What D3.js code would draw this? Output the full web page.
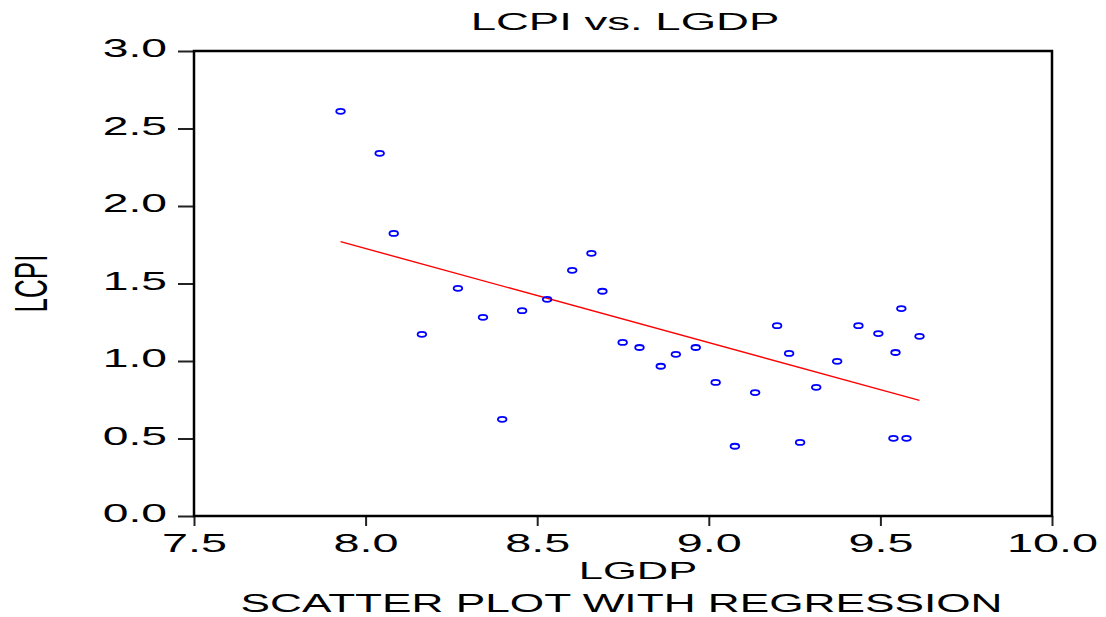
<!DOCTYPE html>
<html>
<head>
<meta charset="utf-8">
<script src="https://cdn.jsdelivr.net/npm/d3@7"></script>
<style>
  html, body { margin: 0; padding: 0; background: #fff; }
  svg { display: block; font-family: "Liberation Sans", Arial, sans-serif; }
</style>
</head>
<body>
<div id="chart"></div>
<script>
var lgdp = [7.927, 8.041, 8.082, 8.164, 8.269, 8.342, 8.398, 8.456, 8.529, 8.602,
            8.658, 8.690, 8.749, 8.798, 8.860, 8.904, 8.962, 9.020, 9.076, 9.135,
            9.199, 9.234, 9.266, 9.313, 9.374, 9.436, 9.494, 9.544, 9.538, 9.561,
            9.576, 9.614];
var lcpi = [2.611, 2.340, 1.823, 1.172, 1.469, 1.282, 0.624, 1.325, 1.398, 1.585,
            1.695, 1.450, 1.120, 1.087, 0.966, 1.043, 1.087, 0.862, 0.450, 0.796,
            1.228, 1.049, 0.475, 0.830, 0.998, 1.228, 1.177, 1.055, 0.501, 1.338,
            0.501, 1.159];
var xTicks = [7.5, 8.0, 8.5, 9.0, 9.5, 10.0];
var yTicks = [0.0, 0.5, 1.0, 1.5, 2.0, 2.5, 3.0];

var width = 1106, height = 617;
// plot box edges (note: "top" is a read-only global, so use box.*)
var box = { left: 194, right: 1052, top: 51, bottom: 516 };

var svg = d3.select('#chart').append('svg')
    .attr('width', width)
    .attr('height', height);

var x = d3.scaleLinear().domain([7.5, 10]).range([box.left, box.right]);
var y = d3.scaleLinear().domain([0, 3]).range([box.bottom, box.top]);

// text in the source is stretched sideways, so scale it on x
function wideText(px, py, str, size, sx, anchor, rotate) {
    var g = svg.append('g')
        .attr('transform', 'translate(' + px + ',' + py + ') scale(' + sx + ',1)' +
              (rotate ? ' rotate(' + rotate + ')' : ''));
    g.append('text')
        .attr('text-anchor', anchor || 'middle')
        .attr('font-size', size + 'px')
        .attr('fill', '#000')
        .text(str);
    return g;
}

// Axes
var xAxis = d3.axisBottom(x).tickValues(xTicks).tickSize(10).tickFormat(d3.format('.1f'));
var yAxis = d3.axisLeft(y).tickValues(yTicks).tickSize(16).tickFormat(d3.format('.1f'));

var gx = svg.append('g').attr('transform', 'translate(0,' + box.bottom + ')').call(xAxis);
gx.select('.domain').remove();
gx.selectAll('.tick line').attr('stroke', '#222').attr('stroke-width', 2);
gx.selectAll('.tick text')
    .attr('font-family', '"Liberation Sans", Arial, sans-serif')
    .attr('font-size', '26px')
    .attr('fill', '#000')
    .attr('y', 36).attr('dy', null)
    .attr('transform', 'scale(1.8,1)');

var gy = svg.append('g').attr('transform', 'translate(' + box.left + ',0)').call(yAxis);
gy.select('.domain').remove();
gy.selectAll('.tick line').attr('stroke', '#222').attr('stroke-width', 2);
gy.selectAll('.tick text')
    .attr('font-family', '"Liberation Sans", Arial, sans-serif')
    .attr('font-size', '25px')
    .attr('fill', '#000')
    .attr('x', -27 / 1.85).attr('dy', null).attr('y', 5.6)
    .attr('transform', 'scale(1.85,1)');

// Frame
svg.append('rect')
    .attr('x', box.left).attr('y', box.top)
    .attr('width', box.right - box.left).attr('height', box.bottom - box.top)
    .attr('fill', 'none')
    .attr('stroke', '#000')
    .attr('stroke-width', 2.5);

// Regression line (OLS over the data)
var mx = d3.mean(lgdp), my = d3.mean(lcpi);
var sxy = d3.sum(lgdp, function(v, i) { return (v - mx) * (lcpi[i] - my); });
var sxx = d3.sum(lgdp, function(v) { return (v - mx) * (v - mx); });
var slope = sxy / sxx, intercept = my - slope * mx;
var xr = d3.extent(lgdp);

svg.append('line')
    .attr('x1', x(xr[0])).attr('y1', y(intercept + slope * xr[0]))
    .attr('x2', x(xr[1])).attr('y2', y(intercept + slope * xr[1]))
    .attr('stroke', '#ff0000')
    .attr('stroke-width', 1.4);

// Points
svg.append('g')
    .selectAll('ellipse')
    .data(lgdp)
    .enter()
    .append('ellipse')
    .attr('cx', function(d) { return x(d); })
    .attr('cy', function(d, i) { return y(lcpi[i]); })
    .attr('rx', 4.3)
    .attr('ry', 2.5)
    .attr('fill', 'none')
    .attr('stroke', '#0000ff')
    .attr('stroke-width', 1.8);

// Titles
wideText(625, 30, 'LCPI vs. LGDP', 23, 1.98);
wideText(638, 579, 'LGDP', 24, 1.81);
wideText(621.5, 612, 'SCATTER PLOT WITH REGRESSION', 26, 1.70);
wideText(47, 283.5, 'LCPI', 26, 1.79, 'middle', -90);
</script>
</body>
</html>
